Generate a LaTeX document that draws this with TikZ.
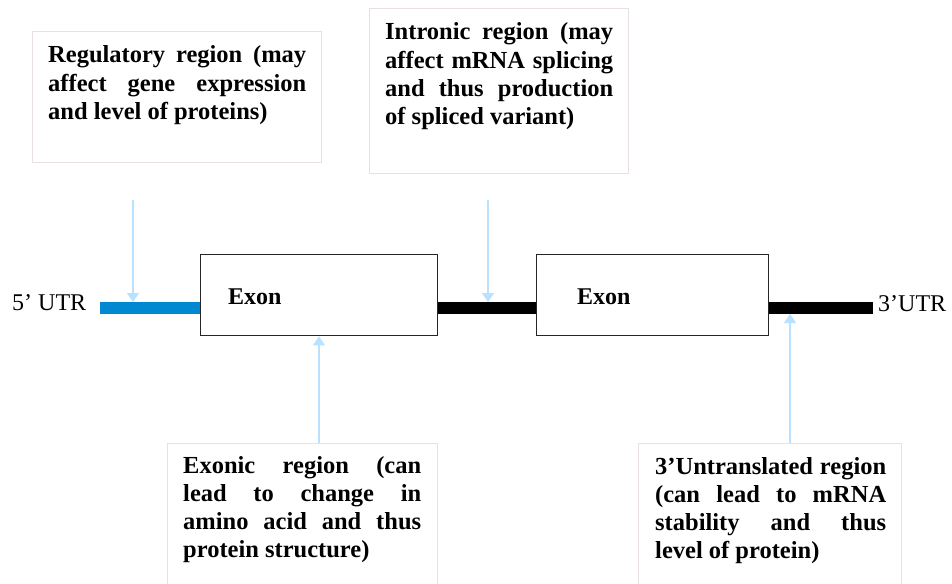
\documentclass[tikz,border=0pt]{standalone}
\usepackage{fontspec}
\setmainfont{Liberation Serif}
\usetikzlibrary{arrows.meta}
\definecolor{boxline}{HTML}{E8E0E2}
\definecolor{utrblue}{HTML}{0088D1}
\definecolor{arrowblue}{HTML}{B8E2FF}
\tikzset{
  infobox/.style={draw=boxline, line width=1.3pt, fill=white, rectangle, inner sep=0pt},
  infotext/.style={anchor=base west, inner sep=0pt, align=justify,
    font=\fontsize{24.5}{28.3}\selectfont\bfseries},
  exonbox/.style={draw=black!85, line width=1.4pt, fill=white, rectangle, inner sep=0pt,
    minimum height=81pt},
  exonlabel/.style={anchor=base west, inner sep=0pt, font=\fontsize{24}{28}\selectfont\bfseries},
  utrlabel/.style={anchor=base west, inner sep=0pt, font=\fontsize{24}{28}\selectfont},
  pointer/.style={draw=arrowblue, line width=1.3pt, -{Triangle[width=12pt,length=9pt]}},
}
\begin{document}
\begin{tikzpicture}[x=1pt,y=-1pt]
\useasboundingbox (0,0) rectangle (952,583);
\clip (0,0) rectangle (952,583);
\fill[white] (0,0) rectangle (952,583);

% gene line
\draw[utrblue, line width=12pt] (100,308) -- (202,308);
\draw[black, line width=12pt] (435,308) -- (538,308);
\draw[black, line width=12pt] (766,308) -- (873,308);

% exon boxes
\node[exonbox, minimum width=237pt, anchor=north west] (exon1) at (200,254) {};
\node[exonbox, minimum width=232pt, anchor=north west] (exon2) at (536,254) {};
\node[exonlabel] (exon1t) at (228,304) {Exon};
\node[exonlabel] (exon2t) at (577,304) {Exon};

\node[utrlabel] (utr5) at (12,310) {5’ UTR};
\node[utrlabel] (utr3) at (878,311) {3’UTR};

% info boxes
\node[infobox, minimum width=289pt, minimum height=131pt, anchor=north west] (regbox) at (32,31) {};
\node[infotext, text width=258pt] (regtext) at (48,63)
  {Regulatory region (may\linebreak affect gene expression\linebreak and level of proteins)};

\node[infobox, minimum width=259pt, minimum height=165pt, anchor=north west] (intbox) at (369,8) {};
\node[infotext, text width=228pt] (inttext) at (385,40)
  {Intronic region (may\linebreak affect mRNA splicing\linebreak and thus production\linebreak of spliced variant)};

\node[infobox, minimum width=270pt, minimum height=160pt, anchor=north west] (exobox) at (167,443) {};
\node[infotext, text width=238pt] (exotext) at (183,473)
  {Exonic region (can\linebreak lead to change in\linebreak amino acid and thus\linebreak protein structure)};

\node[infobox, minimum width=263pt, minimum height=160pt, anchor=north west] (utrbox) at (638,443) {};
\node[infotext, text width=231pt] (utrtext) at (655,474)
  {3’Untranslated region\linebreak (can lead to mRNA\linebreak stability and thus\linebreak level of protein)};

% arrows
\coordinate (regstart) at (133,200);
\coordinate (regend) at (133,302);
\coordinate (intstart) at (488,200);
\coordinate (intend) at (488,302);
\coordinate (utrend) at (790,314);
\draw[pointer] (regstart) -- (regend);
\draw[pointer] (intstart) -- (intend);
\draw[pointer] (exobox.north -| 319,0) -- (exon1.south -| 319,0);
\draw[pointer] (utrbox.north -| utrend) -- (utrend);
\end{tikzpicture}
\end{document}
